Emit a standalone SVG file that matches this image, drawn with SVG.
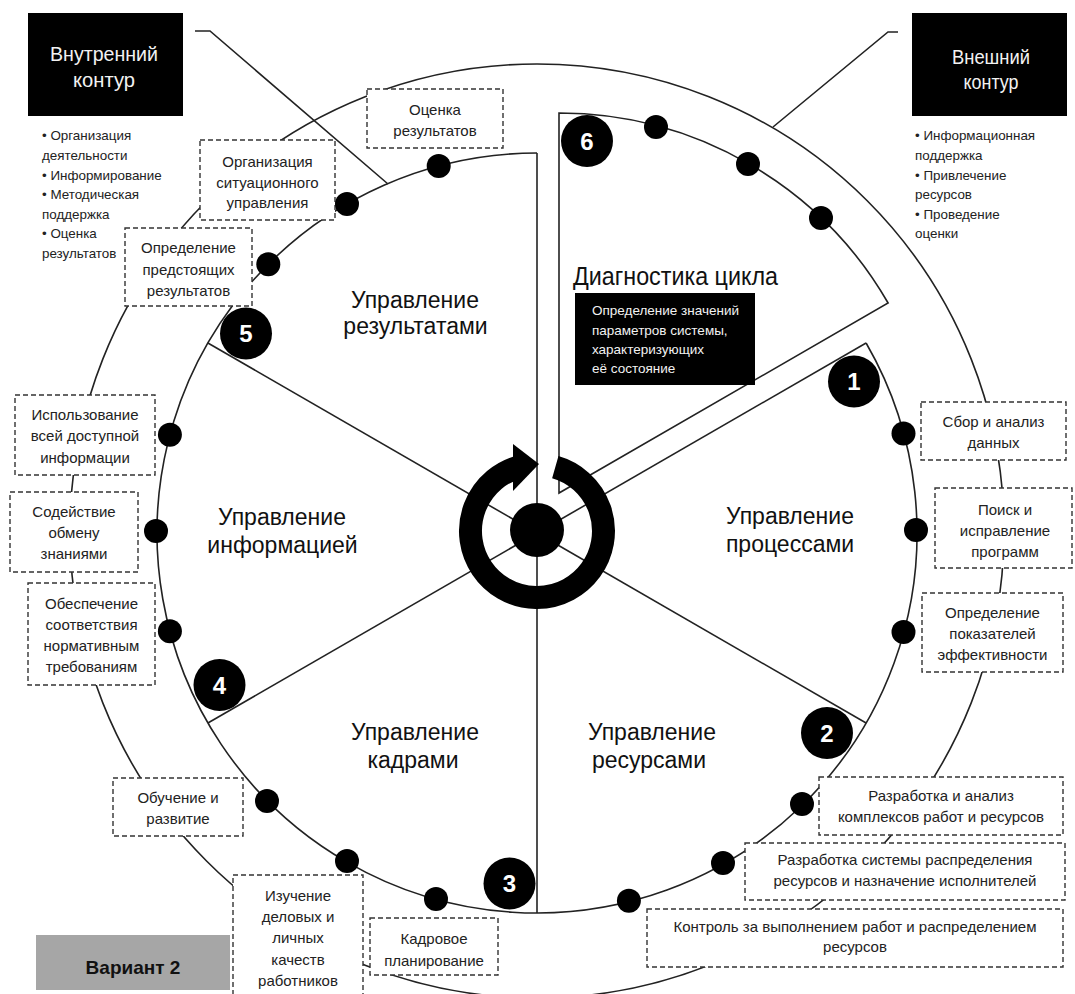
<svg xmlns="http://www.w3.org/2000/svg" width="1075" height="994" viewBox="0 0 1075 994">
<style>
.ln{fill:none;stroke:#222;stroke-width:1.6}
.box{fill:#fff;stroke:#333;stroke-width:1.4;stroke-dasharray:5 3}
text{font-family:"Liberation Sans",Arial,sans-serif}
.bt{font-size:15px;fill:#222;text-anchor:middle}
.big{font-size:23px;fill:#111;text-anchor:middle}
.num{font-size:24px;font-weight:bold;fill:#fff;text-anchor:middle}
.bl{font-size:13.4px;fill:#222}
.hd{font-size:21px;fill:#f2f2f2;text-anchor:middle}
.wt{font-size:13.5px;fill:#f2f2f2}
.dot{fill:#000}
</style>
<rect width="1075" height="994" fill="#fff"/>
<g id="connectors">
<circle cx="537" cy="531" r="467" class="ln"/>
<path class="ln" d="M537 153 A380 380 0 1 0 866.1 343"/>
<path class="ln" d="M559 493 L559 113 A380 380 0 0 1 888.1 303 Z"/>
<line class="ln" x1="537" y1="153" x2="537" y2="913"/>
<line class="ln" x1="537" y1="533" x2="866.1" y2="343"/>
<line class="ln" x1="537" y1="533" x2="866.1" y2="723"/>
<line class="ln" x1="537" y1="533" x2="207.9" y2="343"/>
<line class="ln" x1="537" y1="533" x2="207.9" y2="723"/>
<polyline class="ln" points="195,31 210,31 388,184"/>
<polyline class="ln" points="898,32 888,32 773,127"/>
</g>
<g id="inner-contour">
<rect x="28" y="13" width="155" height="103" fill="#000"/>
<text class="hd" x="104" y="61" textLength="108" lengthAdjust="spacingAndGlyphs">Внутренний</text>
<text class="hd" x="104" y="87" textLength="62" lengthAdjust="spacingAndGlyphs">контур</text>
<text class="bl" x="42"><tspan x="42" y="140">• Организация</tspan><tspan x="42" y="160">деятельности</tspan><tspan x="42" y="180">• Информирование</tspan><tspan x="42" y="199">• Методическая</tspan><tspan x="42" y="219">поддержка</tspan><tspan x="42" y="238">• Оценка</tspan><tspan x="42" y="258">результатов</tspan></text>
</g>
<g id="outer-contour">
<rect x="912" y="13" width="155" height="103" fill="#000"/>
<text class="hd" x="991" y="64" font-size="20" textLength="78" lengthAdjust="spacingAndGlyphs">Внешний</text>
<text class="hd" x="991" y="89" font-size="20" textLength="55" lengthAdjust="spacingAndGlyphs">контур</text>
<text class="bl"><tspan x="915" y="140">• Информационная</tspan><tspan x="915" y="160">поддержка</tspan><tspan x="915" y="180">• Привлечение</tspan><tspan x="915" y="199">ресурсов</tspan><tspan x="915" y="219">• Проведение</tspan><tspan x="915" y="238">оценки</tspan></text>
</g>
<g id="b1"><rect class="box" x="367" y="89" width="136" height="59"/><text class="bt"><tspan x="435" y="115">Оценка</tspan><tspan x="435" y="136">результатов</tspan></text></g>
<g id="b2"><rect class="box" x="200" y="140" width="135" height="80"/><text class="bt"><tspan x="267.5" y="167">Организация</tspan><tspan x="267.5" y="188">ситуационного</tspan><tspan x="267.5" y="208">управления</tspan></text></g>
<g id="b3"><rect class="box" x="125" y="228" width="127" height="78"/><text class="bt"><tspan x="188.5" y="253">Определение</tspan><tspan x="188.5" y="275">предстоящих</tspan><tspan x="188.5" y="296">результатов</tspan></text></g>
<g id="b4"><rect class="box" x="15" y="395" width="140" height="80"/><text class="bt"><tspan x="85" y="420">Использование</tspan><tspan x="85" y="441">всей доступной</tspan><tspan x="85" y="463">информации</tspan></text></g>
<g id="b5"><rect class="box" x="10" y="492" width="128" height="80"/><text class="bt"><tspan x="74" y="517">Содействие</tspan><tspan x="74" y="538">обмену</tspan><tspan x="74" y="559">знаниями</tspan></text></g>
<g id="b6"><rect class="box" x="28" y="583" width="127" height="102"/><text class="bt"><tspan x="91.5" y="609">Обеспечение</tspan><tspan x="91.5" y="630">соответствия</tspan><tspan x="91.5" y="651">нормативным</tspan><tspan x="91.5" y="672">требованиям</tspan></text></g>
<g id="b7"><rect class="box" x="113" y="778" width="130" height="58"/><text class="bt"><tspan x="178" y="803">Обучение и</tspan><tspan x="178" y="824">развитие</tspan></text></g>
<g id="b8"><rect class="box" x="233" y="875" width="130" height="130"/><text class="bt"><tspan x="298" y="901">Изучение</tspan><tspan x="298" y="922">деловых и</tspan><tspan x="298" y="943">личных</tspan><tspan x="298" y="965">качеств</tspan><tspan x="298" y="986">работников</tspan></text></g>
<g id="b9"><rect class="box" x="370" y="918" width="128" height="57"/><text class="bt"><tspan x="434" y="944">Кадровое</tspan><tspan x="434" y="966">планирование</tspan></text></g>
<g id="b10"><rect class="box" x="647" y="909" width="416" height="58"/><text class="bt"><tspan x="855" y="932">Контроль за выполнением работ и распределением</tspan><tspan x="855" y="952">ресурсов</tspan></text></g>
<g id="b11"><rect class="box" x="745" y="843" width="320" height="57"/><text class="bt"><tspan x="905" y="865">Разработка системы распределения</tspan><tspan x="905" y="886">ресурсов и назначение исполнителей</tspan></text></g>
<g id="b12"><rect class="box" x="819" y="777" width="244" height="58"/><text class="bt"><tspan x="941" y="801">Разработка и анализ</tspan><tspan x="941" y="822">комплексов работ и ресурсов</tspan></text></g>
<g id="b13"><rect class="box" x="922" y="593" width="141" height="79"/><text class="bt"><tspan x="992.5" y="618">Определение</tspan><tspan x="992.5" y="639">показателей</tspan><tspan x="992.5" y="660">эффективности</tspan></text></g>
<g id="b14"><rect class="box" x="935" y="488" width="137" height="80"/><text class="bt"><tspan x="1005" y="515">Поиск и</tspan><tspan x="1005" y="536">исправление</tspan><tspan x="1005" y="557">программ</tspan></text></g>
<g id="b15"><rect class="box" x="921" y="402" width="145" height="58"/><text class="bt"><tspan x="993.5" y="427">Сбор и анализ</tspan><tspan x="993.5" y="448">данных</tspan></text></g>
<g id="diagnostics">
<text x="573" y="285" font-size="26" fill="#111" textLength="205" lengthAdjust="spacingAndGlyphs">Диагностика цикла</text>
<rect x="575" y="293" width="180" height="92" fill="#000"/>
<text class="wt"><tspan x="592" y="315">Определение значений</tspan><tspan x="592" y="334.5">параметров системы,</tspan><tspan x="592" y="354">характеризующих</tspan><tspan x="592" y="373">её состояние</tspan></text>
</g>
<g id="cycle-icon">
<path d="M555.3 467.1 A66.5 66.5 0 1 1 520.9 466.5" fill="none" stroke="#000" stroke-width="23"/>
<polygon points="513,444 539,464 513,491" fill="#000"/>
<circle cx="537" cy="530" r="27" fill="#000"/>
</g>
<g id="labels">
<text class="big"><tspan x="415" y="308">Управление</tspan><tspan x="415.5" y="334">результатами</tspan></text>
<text class="big"><tspan x="282" y="525">Управление</tspan><tspan x="282.5" y="553">информацией</tspan></text>
<text class="big"><tspan x="790" y="524">Управление</tspan><tspan x="790" y="552">процессами</tspan></text>
<text class="big"><tspan x="652" y="740">Управление</tspan><tspan x="649" y="768">ресурсами</tspan></text>
<text class="big"><tspan x="415" y="740">Управление</tspan><tspan x="413" y="768">кадрами</tspan></text>
</g>
<g id="dots">
<circle class="dot" cx="656" cy="127" r="12"/>
<circle class="dot" cx="748" cy="164" r="12"/>
<circle class="dot" cx="821" cy="218" r="12"/>
<circle class="dot" cx="438.7" cy="165.9" r="12"/>
<circle class="dot" cx="347" cy="203.9" r="12"/>
<circle class="dot" cx="268.3" cy="264.3" r="12"/>
<circle class="dot" cx="169.9" cy="434.7" r="12"/>
<circle class="dot" cx="156" cy="531" r="12"/>
<circle class="dot" cx="169.9" cy="631.3" r="12"/>
<circle class="dot" cx="267" cy="801" r="12"/>
<circle class="dot" cx="347" cy="861" r="12"/>
<circle class="dot" cx="436" cy="899" r="12"/>
<circle class="dot" cx="628.9" cy="900.7" r="12"/>
<circle class="dot" cx="723" cy="863" r="12"/>
<circle class="dot" cx="802" cy="804" r="12"/>
<circle class="dot" cx="903.5" cy="433.5" r="12"/>
<circle class="dot" cx="916" cy="530" r="12"/>
<circle class="dot" cx="903.5" cy="632" r="12"/>
</g>
<g id="n6"><circle cx="587" cy="141" r="26" fill="#000"/><text class="num" x="587" y="149.5">6</text></g>
<g id="n5"><circle cx="246" cy="333.5" r="26" fill="#000"/><text class="num" x="246" y="342">5</text></g>
<g id="n1"><circle cx="854" cy="381.5" r="26" fill="#000"/><text class="num" x="854" y="390">1</text></g>
<g id="n2"><circle cx="827" cy="733" r="26" fill="#000"/><text class="num" x="827" y="741.5">2</text></g>
<g id="n3"><circle cx="509.5" cy="883.5" r="26" fill="#000"/><text class="num" x="509.5" y="892">3</text></g>
<g id="n4"><circle cx="219.5" cy="685" r="26" fill="#000"/><text class="num" x="219.5" y="693.5">4</text></g>
<g id="variant">
<rect x="36" y="935" width="194" height="55" fill="#a6a6a6"/>
<text x="133" y="974" font-size="19" font-weight="bold" fill="#111" text-anchor="middle">Вариант 2</text>
</g>
</svg>
